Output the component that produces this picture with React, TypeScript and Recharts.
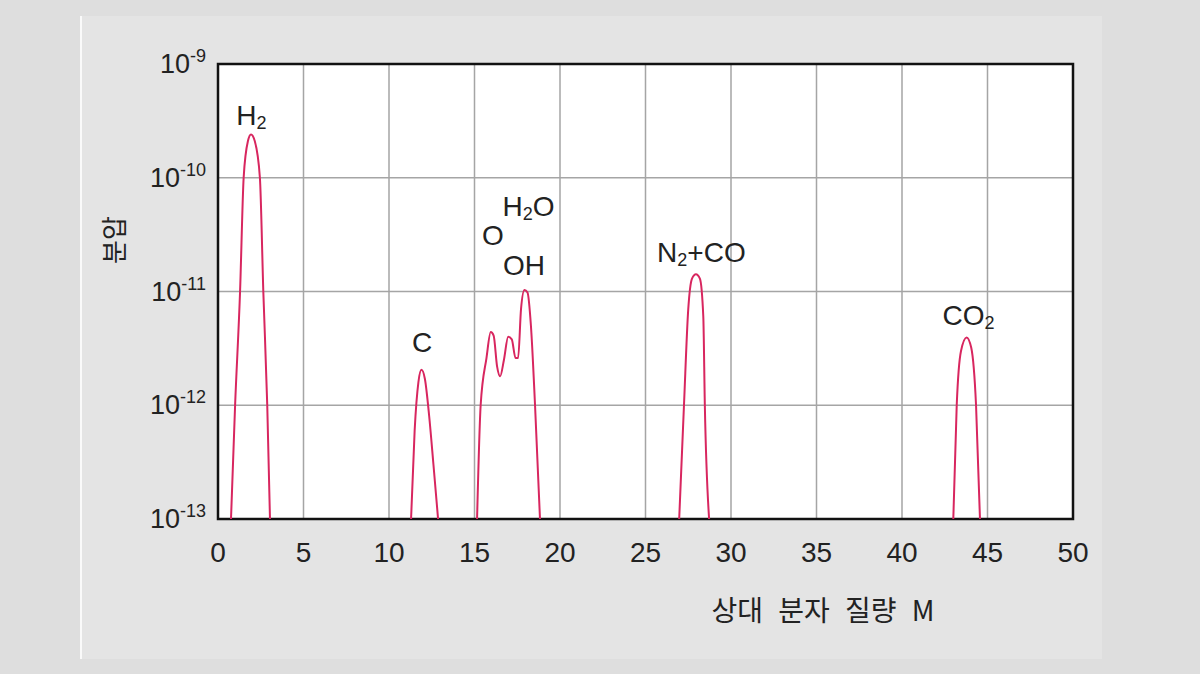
import React from "react";
import {
  LineChart,
  Line,
  XAxis,
  YAxis,
  CartesianGrid,
  ReferenceArea,
  ReferenceDot,
} from "recharts";

// relative molecular mass (x) vs partial pressure (y, log scale)
const massTicks = [0, 5, 10, 15, 20, 25, 30, 35, 40, 45, 50];
const pressureExps = [-13, -12, -11, -10, -9];
const pressureTicks = pressureExps.map((e) => Math.pow(10, e));

const h2Peak = [
  { m: 0.76, p: 1e-13 },
  { m: 1.0, p: 1e-12 },
  { m: 1.29, p: 1e-11 },
  { m: 1.5, p: 1e-10 },
  { m: 1.75, p: 2.1e-10 },
  { m: 1.93, p: 2.4e-10 },
  { m: 2.15, p: 2.1e-10 },
  { m: 2.45, p: 1e-10 },
  { m: 2.65, p: 1e-11 },
  { m: 2.88, p: 1e-12 },
  { m: 3.04, p: 1e-13 },
];

const cPeak = [
  { m: 11.29, p: 1e-13 },
  { m: 11.5, p: 6e-13 },
  { m: 11.72, p: 1.6e-12 },
  { m: 11.9, p: 2.05e-12 },
  { m: 12.1, p: 1.7e-12 },
  { m: 12.35, p: 8e-13 },
  { m: 12.6, p: 3e-13 },
  { m: 12.87, p: 1e-13 },
];

const waterPeaks = [
  { m: 15.15, p: 1e-13 },
  { m: 15.36, p: 1e-12 },
  { m: 15.7, p: 2.6e-12 },
  { m: 15.95, p: 4.4e-12 },
  { m: 16.12, p: 4.1e-12 },
  { m: 16.32, p: 2.2e-12 },
  { m: 16.5, p: 1.8e-12 },
  { m: 16.72, p: 2.5e-12 },
  { m: 16.97, p: 4.0e-12 },
  { m: 17.18, p: 3.8e-12 },
  { m: 17.4, p: 2.6e-12 },
  { m: 17.55, p: 2.6e-12 },
  { m: 17.72, p: 7e-12 },
  { m: 17.92, p: 1.03e-11 },
  { m: 18.1, p: 9.8e-12 },
  { m: 18.3, p: 5e-12 },
  { m: 18.54, p: 1e-12 },
  { m: 18.83, p: 1e-13 },
];

const n2CoPeak = [
  { m: 26.97, p: 1e-13 },
  { m: 27.25, p: 1e-12 },
  { m: 27.5, p: 7e-12 },
  { m: 27.72, p: 1.3e-11 },
  { m: 27.95, p: 1.42e-11 },
  { m: 28.18, p: 1.3e-11 },
  { m: 28.38, p: 6e-12 },
  { m: 28.47, p: 1e-12 },
  { m: 28.72, p: 1e-13 },
];

const co2Peak = [
  { m: 43.0, p: 1e-13 },
  { m: 43.2, p: 1e-12 },
  { m: 43.45, p: 3e-12 },
  { m: 43.78, p: 3.95e-12 },
  { m: 44.05, p: 3.2e-12 },
  { m: 44.33, p: 1e-12 },
  { m: 44.56, p: 1e-13 },
];

const peakSeries = [h2Peak, cPeak, waterPeaks, n2CoPeak, co2Peak];

// label text pieces: [text, isSubscript]
const peakLabels = [
  { m: 1.95, p: 2.91e-10, parts: [["H", false], ["2", true]] },
  { m: 11.93, p: 2.94e-12, parts: [["C", false]] },
  { m: 16.08, p: 2.56e-11, parts: [["O", false]] },
  { m: 18.16, p: 4.61e-11, parts: [["H", false], ["2", true], ["O", false]] },
  { m: 17.89, p: 1.4e-11, parts: [["OH", false]] },
  { m: 28.27, p: 1.82e-11, parts: [["N", false], ["2", true], ["+CO", false]] },
  { m: 43.89, p: 5.07e-12, parts: [["CO", false], ["2", true]] },
];

const LATIN = '"Liberation Sans", Arial, Helvetica, sans-serif';
const KOREAN = '"Noto Sans CJK KR", "Noto Sans", sans-serif';
const INK = "#222";
const PEAK = "#d8265f";

function PowerTick(props: any) {
  const { x, y, payload } = props;
  const exp = Math.round(Math.log10(payload.value));
  return (
    <text
      x={x - 12}
      y={y + 9}
      textAnchor="end"
      fill={INK}
      fontSize={27}
      fontFamily={LATIN}
    >
      10
      <tspan fontSize={18} dy={-11}>
        {exp}
      </tspan>
    </text>
  );
}

function MassTick(props: any) {
  const { x, y, payload } = props;
  return (
    <text
      x={x}
      y={y + 43}
      textAnchor="middle"
      fill={INK}
      fontSize={28}
      fontFamily={LATIN}
    >
      {payload.value}
    </text>
  );
}

function peakText(parts: any[]) {
  return (props: any) => {
    const { cx, cy } = props;
    let shift = 0;
    return (
      <text
        x={cx}
        y={cy}
        textAnchor="middle"
        fill={INK}
        fontSize={28}
        fontFamily={LATIN}
      >
        {parts.map(([t, sub]: [string, boolean], i: number) => {
          const dy = sub ? 4 - shift : -shift;
          shift = sub ? 4 : 0;
          return (
            <tspan key={i} fontSize={sub ? 18 : 28} dy={dy}>
              {t}
            </tspan>
          );
        })}
      </text>
    );
  };
}

export default function App() {
  return (
    <div
      style={{
        position: "fixed",
        left: 0,
        top: 0,
        width: 1200,
        height: 674,
        background: "#dedede",
        overflow: "hidden",
      }}
    >
      <div
        style={{
          position: "absolute",
          left: 80,
          top: 16,
          width: 1020,
          height: 643,
          background: "#e4e4e4",
          borderLeft: "2px solid #fafafa",
        }}
      />
      <div style={{ position: "absolute", left: 0, top: 0 }}>
        <LineChart
          width={1200}
          height={674}
          margin={{ top: 64, right: 127, bottom: 95, left: 138 }}
        >
          <CartesianGrid
            stroke="#a5a5a5"
            strokeWidth={1.5}
            fill="#ffffff"
            fillOpacity={1}
          />
          <XAxis
            dataKey="m"
            type="number"
            domain={[0, 50]}
            ticks={massTicks}
            allowDataOverflow
            height={60}
            axisLine={false}
            tickLine={false}
            tickSize={0}
            tickMargin={0}
            tick={<MassTick />}
          />
          <YAxis
            dataKey="p"
            scale="log"
            domain={[1e-13, 1e-9]}
            ticks={pressureTicks}
            allowDataOverflow
            width={80}
            axisLine={false}
            tickLine={false}
            tickSize={0}
            tickMargin={0}
            tick={<PowerTick />}
          />
          {peakSeries.map((d, i) => (
            <Line
              key={i}
              data={d}
              dataKey="p"
              type="monotone"
              stroke={PEAK}
              strokeWidth={2}
              dot={false}
              isAnimationActive={false}
            />
          ))}
          <ReferenceArea
            x1={0}
            x2={50}
            y1={1e-13}
            y2={1e-9}
            fill="none"
            stroke="#111"
            strokeWidth={2.5}
            fillOpacity={0}
            ifOverflow="visible"
          />
          {peakLabels.map((l, i) => (
            <ReferenceDot
              key={i}
              x={l.m}
              y={l.p}
              r={0}
              ifOverflow="visible"
              shape={peakText(l.parts)}
            />
          ))}
        </LineChart>
      </div>
      <div
        style={{
          position: "absolute",
          left: 823,
          top: 609,
          transform: "translate(-50%, -50%)",
          fontFamily: KOREAN,
          fontSize: 28,
          color: INK,
          whiteSpace: "nowrap",
          wordSpacing: 9,
        }}
      >
        상대 분자 질량 M
      </div>
      <div
        style={{
          position: "absolute",
          left: 112,
          top: 240,
          transform: "translate(-50%, -50%) rotate(-90deg)",
          fontFamily: KOREAN,
          fontSize: 26,
          color: INK,
          whiteSpace: "nowrap",
        }}
      >
        분압
      </div>
    </div>
  );
}
